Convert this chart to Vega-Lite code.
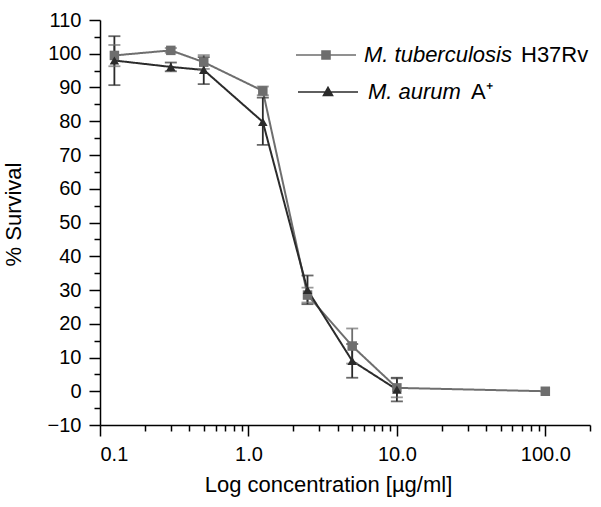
{
  "$schema": "https://vega.github.io/schema/vega-lite/v6.json",
  "width": 490,
  "height": 405,
  "autosize": "none",
  "padding": {"left": 100, "top": 20, "right": 11, "bottom": 82},
  "config": {
    "view": {"stroke": null},
    "font": "Liberation Sans",
    "axis": {
      "domainColor": "#000", "tickColor": "#000", "labelColor": "#000", "titleColor": "#000",
      "domainWidth": 1.5, "tickWidth": 1.5,
      "labelFont": "Liberation Sans", "titleFont": "Liberation Sans",
      "labelFontSize": 20, "titleFontSize": 22, "titleFontWeight": "normal",
      "grid": false, "labelOverlap": false
    },
    "legend": {
      "title": null, "padding": 0, "orient": "none",
      "labelFont": "Liberation Sans", "labelFontSize": 22, "labelColor": "#000", "labelBaseline": "middle", "labelLimit": 300
    }
  },
  "data": {
    "values": [
      {"conc": 0.125, "species": "M. tuberculosis", "strain": "H37Rv", "survival": 99.5, "lo": 96.3, "hi": 102.6},
      {"conc": 0.3, "species": "M. tuberculosis", "strain": "H37Rv", "survival": 101, "lo": 100.3, "hi": 101.7},
      {"conc": 0.5, "species": "M. tuberculosis", "strain": "H37Rv", "survival": 97.5, "lo": 95.5, "hi": 99.6},
      {"conc": 1.25, "species": "M. tuberculosis", "strain": "H37Rv", "survival": 89, "lo": 87.7, "hi": 90.3},
      {"conc": 2.5, "species": "M. tuberculosis", "strain": "H37Rv", "survival": 28.5, "lo": 26.3, "hi": 30.7},
      {"conc": 5, "species": "M. tuberculosis", "strain": "H37Rv", "survival": 13.4, "lo": 8.2, "hi": 18.6},
      {"conc": 10, "species": "M. tuberculosis", "strain": "H37Rv", "survival": 1, "lo": -1.8, "hi": 3.8},
      {"conc": 100, "species": "M. tuberculosis", "strain": "H37Rv", "survival": 0, "lo": null, "hi": null},
      {"conc": 0.125, "species": "M. aurum", "strain": "A⁺", "survival": 98, "lo": 90.7, "hi": 105.2},
      {"conc": 0.3, "species": "M. aurum", "strain": "A⁺", "survival": 96.1, "lo": 94.8, "hi": 97.4},
      {"conc": 0.5, "species": "M. aurum", "strain": "A⁺", "survival": 95.2, "lo": 91, "hi": 99},
      {"conc": 1.25, "species": "M. aurum", "strain": "A⁺", "survival": 79.8, "lo": 73, "hi": 87},
      {"conc": 2.5, "species": "M. aurum", "strain": "A⁺", "survival": 30, "lo": 25.8, "hi": 34.3},
      {"conc": 5, "species": "M. aurum", "strain": "A⁺", "survival": 9, "lo": 4, "hi": 14},
      {"conc": 10, "species": "M. aurum", "strain": "A⁺", "survival": 0.5, "lo": -3, "hi": 4}
    ]
  },
  "encoding": {
    "x": {
      "field": "conc", "type": "quantitative",
      "scale": {"type": "log", "domain": [0.1, 200], "nice": false},
      "axis": {
        "title": "Log concentration [µg/ml]",
        "values": [0.1, 0.2, 0.3, 0.4, 0.5, 0.6, 0.7, 0.8, 0.9, 1, 2, 3, 4, 5, 6, 7, 8, 9, 10, 20, 30, 40, 50, 60, 70, 80, 90, 100, 200],
        "labelExpr": "indexof([0.1, 1, 10, 100], datum.value) >= 0 ? format(datum.value, '.1f') : ''",
        "tickSize": {"condition": {"test": "indexof([0.1, 1, 10, 100], datum.value) >= 0", "value": 11}, "value": 6},
        "labelPadding": 8,
        "titlePadding": 10,
        "titleX": 228
      }
    },
    "y": {
      "field": "survival", "type": "quantitative",
      "scale": {"domain": [-10, 110], "nice": false, "zero": false},
      "axis": {
        "title": "% Survival",
        "values": [-10, -5, 0, 5, 10, 15, 20, 25, 30, 35, 40, 45, 50, 55, 60, 65, 70, 75, 80, 85, 90, 95, 100, 105, 110],
        "labelExpr": "datum.value % 10 === 0 ? datum.label : ''",
        "tickSize": {"condition": {"test": "datum.value % 10 === 0", "value": 11}, "value": 6},
        "labelPadding": 8,
        "titlePadding": 22,
        "titleY": 194
      }
    }
  },
  "layer": [
    {
      "mark": {"type": "line", "strokeWidth": 2},
      "encoding": {
        "color": {
          "field": "species", "type": "nominal",
          "scale": {"domain": ["M. tuberculosis", "M. aurum"], "range": ["#6e6e6e", "#2b2b2b"]},
          "legend": {
            "values": ["M. tuberculosis"],
            "legendX": 215, "legendY": 24,
            "symbolSize": 100, "symbolType": "M-6,0H6M-0.8,-0.8H0.8V0.8H-0.8Z",
            "symbolStrokeWidth": 1.6, "symbolStrokeColor": "#3a3a3a", "symbolFillColor": "#6e6e6e", "symbolOpacity": 1,
            "labelFontStyle": "italic", "labelOffset": 27
          }
        },
        "opacity": {
          "field": "species", "type": "ordinal",
          "scale": {"domain": ["M. aurum", "M. tuberculosis"], "range": [1, 1]},
          "legend": {
            "values": ["M. aurum"],
            "legendX": 217, "legendY": 61,
            "symbolSize": 100, "symbolType": "M-6,0H6M0,-0.9L0.9,0.7H-0.9Z",
            "symbolStrokeWidth": 1.6, "symbolStrokeColor": "#2b2b2b", "symbolFillColor": "#2b2b2b", "symbolOpacity": 1,
            "labelFontStyle": "italic", "labelOffset": 29
          }
        },
        "strokeDash": {
          "field": "strain", "type": "nominal",
          "scale": {"domain": ["H37Rv", "A⁺"], "range": [[1, 0], [1, 0]]},
          "legend": {
            "values": ["H37Rv"],
            "legendX": 395, "legendY": 24,
            "symbolSize": 100, "symbolOpacity": 0, "symbolStrokeWidth": 0,
            "labelOffset": 4
          }
        },
        "strokeWidth": {
          "field": "strain", "type": "ordinal",
          "scale": {"domain": ["A⁺", "H37Rv"], "range": [2, 2]},
          "legend": {
            "values": ["A⁺"],
            "legendX": 345, "legendY": 61,
            "symbolSize": 100, "symbolOpacity": 0, "symbolStrokeWidth": 0,
            "labelOffset": 4
          }
        }
      }
    },
    {
      "mark": {"type": "rule", "strokeWidth": 1.8},
      "encoding": {
        "y": {"field": "lo", "type": "quantitative", "title": "% Survival"},
        "y2": {"field": "hi"},
        "color": {"field": "species", "type": "nominal", "legend": null}
      }
    },
    {
      "mark": {"type": "tick", "orient": "horizontal", "size": 12, "thickness": 1.8},
      "encoding": {
        "y": {"field": "lo", "type": "quantitative", "title": "% Survival"},
        "color": {"field": "species", "type": "nominal", "legend": null}
      }
    },
    {
      "mark": {"type": "tick", "orient": "horizontal", "size": 12, "thickness": 1.8},
      "encoding": {
        "y": {"field": "hi", "type": "quantitative", "title": "% Survival"},
        "color": {"field": "species", "type": "nominal", "legend": null}
      }
    },
    {
      "mark": {"type": "point", "filled": true, "opacity": 1},
      "encoding": {
        "fill": {"field": "species", "type": "nominal", "scale": {"range": ["#2b2b2b", "#6e6e6e"]}, "legend": null},
        "shape": {"field": "species", "type": "nominal", "scale": {"range": ["triangle-up", "square"]}, "legend": null},
        "size": {"value": 90}
      }
    }
  ]
}
